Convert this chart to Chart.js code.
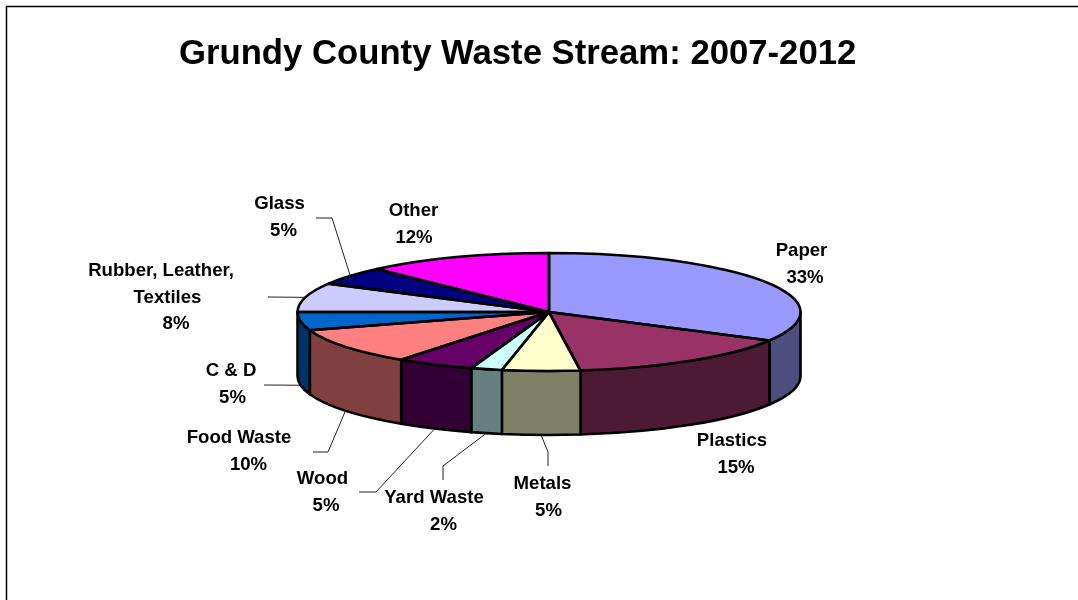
<!DOCTYPE html>
<html>
<head>
<meta charset="utf-8">
<title>Grundy County Waste Stream: 2007-2012</title>
<script src="https://cdn.jsdelivr.net/npm/chart.js@4"></script>
<style>
    html, body { margin: 0; padding: 0; background: #fff; }
    canvas { display: block; }
</style>
</head>
<body>
<canvas id="wasteChart" width="1078" height="600"></canvas>
<script>
const chartTitle = 'Grundy County Waste Stream: 2007-2012';

const categories = ['Paper', 'Plastics', 'Metals', 'Yard Waste', 'Wood', 'Food Waste', 'C & D',
    ['Rubber, Leather,', 'Textiles'], 'Glass', 'Other'];
const shares = [33, 15, 5, 2, 5, 10, 5, 8, 5, 12];
const sliceColors = ['#9999FF', '#993366', '#FFFFCC', '#CCFFFF', '#660066',
    '#FF8080', '#0066CC', '#CCCCFF', '#000080', '#FF00FF'];

// --- Label layout: centre x of every text line, first baseline of each block ---
const labelX = [
    [801.5, 805],
    [732, 736],
    [542.5, 548.5],
    [434, 443.5],
    [322.5, 326],
    [239, 248.5],
    [231, 232.5],
    [161, 167.5, 176],
    [279.5, 283.5],
    [413.5, 414]
];
const labelY = [256, 446, 489, 503, 484, 443, 376, 276, 209, 216];
const lineStep = 26.5;

// Leader elbows, walking from the slice edge out to the label (null = no leader)
const leaderPaths = [
    null,
    null,
    [[548, 452], [548, 466]],
    [[443, 466], [443, 480]],
    [[376, 492], [359, 492]],
    [[328, 452], [313, 452]],
    [[264, 385]],
    [[268, 297]],
    [[332, 218], [316, 218]],
    null
];

// --- Pie projection ---
const pieRadius = 251.5;
const tilt = 59 / 251.5;
const pieDepth = 64;
const outlineWidth = 2.6;

function halfShade(hex) {
    const n = parseInt(hex.slice(1), 16);
    const half = (c) => Math.round(c / 2);
    return `rgb(${half(n >> 16)}, ${half((n >> 8) & 255)}, ${half(n & 255)})`;
}

const tiltedPie = {
    id: 'tiltedPie',

    beforeDraw(chart) {
        // Frame only shows on the top and left sides
        const ctx = chart.ctx;
        ctx.save();
        ctx.strokeStyle = '#000';
        ctx.lineWidth = 1.5;
        ctx.beginPath();
        ctx.moveTo(6.5, chart.height);
        ctx.lineTo(6.5, 6.5);
        ctx.lineTo(chart.width, 6.5);
        ctx.stroke();
        ctx.restore();
    },

    beforeDatasetsDraw(chart) {
        const ctx = chart.ctx;
        const arcs = chart.getDatasetMeta(0).data;

        // Side wall, only the front half of the rim can be seen
        ctx.save();
        ctx.strokeStyle = '#000';
        ctx.lineWidth = outlineWidth;
        ctx.lineJoin = 'round';
        arcs.forEach((arc, i) => {
            const from = Math.max(arc.startAngle, 0);
            const to = Math.min(arc.endAngle, Math.PI);
            if (to <= from) return;
            const ry = arc.outerRadius * tilt;
            ctx.beginPath();
            ctx.ellipse(arc.x, arc.y, arc.outerRadius, ry, 0, from, to);
            ctx.ellipse(arc.x, arc.y + pieDepth, arc.outerRadius, ry, 0, to, from, true);
            ctx.closePath();
            ctx.fillStyle = halfShade(sliceColors[i]);
            ctx.fill();
            ctx.stroke();
        });
        ctx.restore();

        // Squash the library's round pie into an ellipse
        const { x, y } = arcs[0];
        ctx.save();
        ctx.translate(x, y);
        ctx.scale(1, tilt);
        ctx.translate(-x, -y);
    },

    afterDatasetsDraw(chart) {
        const ctx = chart.ctx;
        ctx.restore();

        const arcs = chart.getDatasetMeta(0).data;
        ctx.save();
        ctx.strokeStyle = '#000';
        ctx.lineJoin = 'round';

        // Outlines are stroked unscaled so the line keeps an even width
        ctx.lineWidth = outlineWidth;
        arcs.forEach((arc) => {
            const ry = arc.outerRadius * tilt;
            ctx.beginPath();
            ctx.moveTo(arc.x, arc.y);
            ctx.ellipse(arc.x, arc.y, arc.outerRadius, ry, 0, arc.startAngle, arc.endAngle);
            ctx.closePath();
            ctx.stroke();
        });

        // Leader lines start on the rim at the middle of the slice
        ctx.lineWidth = 1;
        ctx.strokeStyle = '#222';
        leaderPaths.forEach((path, i) => {
            if (!path) return;
            const arc = arcs[i];
            const mid = (arc.startAngle + arc.endAngle) / 2;
            const sx = arc.x + arc.outerRadius * Math.cos(mid);
            let sy = arc.y + arc.outerRadius * tilt * Math.sin(mid);
            if (Math.sin(mid) >= 0) sy += pieDepth;
            ctx.beginPath();
            ctx.moveTo(sx, sy);
            path.forEach((p) => ctx.lineTo(p[0], p[1]));
            ctx.stroke();
        });

        // Name and share, one text line under the other
        ctx.fillStyle = '#000';
        ctx.font = 'bold 18.6px "Liberation Sans", Arial, sans-serif';
        ctx.textAlign = 'center';
        ctx.textBaseline = 'alphabetic';
        categories.forEach((name, i) => {
            const lines = [].concat(name, `${shares[i]}%`);
            lines.forEach((line, n) => {
                ctx.fillText(line, labelX[i][n], labelY[i] + n * lineStep);
            });
        });
        ctx.restore();
    }
};

new Chart(document.getElementById('wasteChart'), {
    type: 'pie',
    data: {
        labels: categories,
        datasets: [{
            data: shares,
            backgroundColor: sliceColors,
            borderWidth: 0
        }]
    },
    options: {
        responsive: false,
        animation: false,
        events: [],
        radius: pieRadius,
        layout: { padding: { left: 179, right: 159, top: 0, bottom: 60 } },
        plugins: {
            legend: { display: false },
            tooltip: { enabled: false },
            title: {
                display: true,
                text: chartTitle,
                align: 'start',
                color: '#000',
                font: { family: '"Liberation Sans", Arial, sans-serif', size: 34.7, weight: 'bold' },
                padding: { top: 34, bottom: 8.4 }
            }
        }
    },
    plugins: [tiltedPie]
});
</script>
</body>
</html>
